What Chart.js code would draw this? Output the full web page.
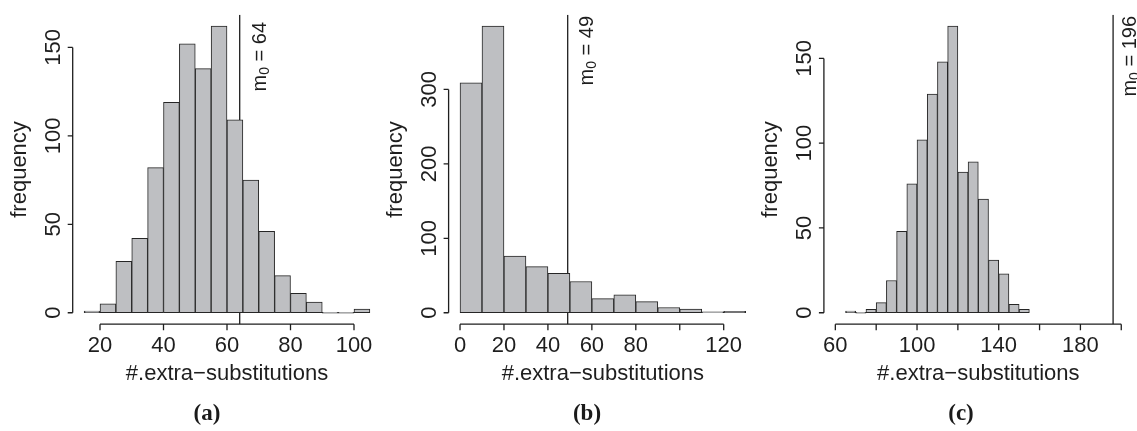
<!DOCTYPE html>
<html lang="en">
<head>
<meta charset="UTF-8">
<title>#.extra-substitutions</title>
<script src="https://cdn.jsdelivr.net/npm/chart.js"></script>
<style>
  body { margin: 0; background: #fff; }
  #wrap { position: relative; width: 1137px; height: 431px; }
  #wrap canvas { position: absolute; left: 0; top: 0; }
  .tag { position: absolute; top: 401px; width: 60px; margin-left: -30px; text-align: center;
         font: bold 23px "Liberation Serif", serif; line-height: 23px; color: #1a1a1a; }
</style>
</head>
<body>
<div id="wrap">
  <canvas id="ca" width="1137" height="431"></canvas>
  <canvas id="cb" width="1137" height="431"></canvas>
  <canvas id="cc" width="1137" height="431"></canvas>
  <div class="tag" style="left:207px">(a)</div>
  <div class="tag" style="left:587px">(b)</div>
  <div class="tag" style="left:961px">(c)</div>
</div>

<script>
  // panel (a)
  const binStartA = 15, binWidthA = 5;
  const countsA = [1, 5, 29, 42, 82, 119, 152, 138, 162, 109, 75, 46, 21, 11, 6, 0, 0, 2];
  const xLimA = [15, 105];
  const xTicksA = [20, 40, 60, 80, 100];
  const xLabelsA = ['20', '40', '60', '80', '100'];
  const yTicksA = [0, 50, 100, 150];
  const m0A = 64;

  // panel (b)
  const binStartB = 0, binWidthB = 10;
  const countsB = [309, 385, 76, 62, 53, 42, 19, 24, 15, 7, 5, 1, 2];
  const xLimB = [0, 130];
  const xTicksB = [0, 20, 40, 60, 80, 100, 120];
  const xLabelsB = ['0', '20', '40', '60', '80', '', '120'];
  const yTicksB = [0, 100, 200, 300];
  const m0B = 49;

  // panel (c)
  const binStartC = 65, binWidthC = 5;
  const countsC = [1, 0, 2, 6, 19, 48, 76, 102, 129, 148, 169, 83, 89, 67, 31, 23, 5, 2];
  const xLimC = [60, 200];
  const xTicksC = [60, 80, 100, 120, 140, 160, 180, 200];
  const xLabelsC = ['60', '', '100', '', '140', '', '180', ''];
  const yTicksC = [0, 50, 100, 150];
  const m0C = 196;

  const xTitle = '#.extra\u2212substitutions';
  const yTitle = 'frequency';

  const ink = '#1e1e1e';
  const font = '"Liberation Sans", Arial, sans-serif';

  // R pads the data range by 4% on each side
  const pad4 = (lo, hi) => [lo - 0.04 * (hi - lo), hi + 0.04 * (hi - lo)];

  function rAxes(p) {
    return {
      id: 'rAxes',
      afterDatasetsDraw(chart) {
        const { ctx, chartArea: a, scales: { x, y } } = chart;
        ctx.save();
        ctx.strokeStyle = ink;
        ctx.fillStyle = ink;
        ctx.lineWidth = 1.3;

        // x axis, only between first and last tick like base R
        const xs = p.xTicks.map(v => x.getPixelForValue(v));
        ctx.beginPath();
        ctx.moveTo(xs[0], a.bottom);
        ctx.lineTo(xs[xs.length - 1], a.bottom);
        xs.forEach(px => { ctx.moveTo(px, a.bottom); ctx.lineTo(px, a.bottom + 6); });
        ctx.stroke();
        ctx.font = '22px ' + font;
        ctx.textAlign = 'center';
        ctx.textBaseline = 'alphabetic';
        xs.forEach((px, i) => ctx.fillText(p.xLabels[i], px, a.bottom + 27.5));
        ctx.fillText(xTitle, (a.left + a.right) / 2, a.bottom + 56);

        // y axis
        const ys = p.yTicks.map(v => y.getPixelForValue(v));
        ctx.beginPath();
        ctx.moveTo(a.left, ys[0]);
        ctx.lineTo(a.left, ys[ys.length - 1]);
        ys.forEach(py => { ctx.moveTo(a.left, py); ctx.lineTo(a.left - 5, py); });
        ctx.stroke();
        ys.forEach((py, i) => {
          ctx.save();
          ctx.translate(a.left - 12.5, py);
          ctx.rotate(-Math.PI / 2);
          ctx.fillText(String(p.yTicks[i]), 0, 0);
          ctx.restore();
        });
        ctx.save();
        ctx.translate(a.left - 47, (a.top + a.bottom) / 2);
        ctx.rotate(-Math.PI / 2);
        ctx.fillText(yTitle, 0, 0);
        ctx.restore();

        // m0 label, rotated, ending near the top
        const big = '20px ' + font, small = '14px ' + font;
        const rest = ' = ' + p.m0;
        ctx.font = big;
        const wm = ctx.measureText('m').width, wr = ctx.measureText(rest).width;
        ctx.font = small;
        const w0 = ctx.measureText('0').width;
        ctx.save();
        ctx.translate(x.getPixelForValue(p.m0) + p.labelDx, p.labelTop);
        ctx.rotate(-Math.PI / 2);
        ctx.textAlign = 'left';
        let cx = -(wm + w0 + wr);
        ctx.font = big; ctx.fillText('m', cx, 0); cx += wm;
        ctx.font = small; ctx.fillText('0', cx, 3); cx += w0;
        ctx.font = big; ctx.fillText(rest, cx, 0);
        ctx.restore();

        ctx.restore();
      }
    };
  }

  function histogram(id, p) {
    const bars = p.counts.map((c, i) => ({ x: p.start + (i + 0.5) * p.width, y: c }));
    const xr = pad4(p.xLim[0], p.xLim[1]);
    const yr = pad4(0, Math.max(...p.counts));
    return new Chart(document.getElementById(id), {
      type: 'bar',
      data: {
        datasets: [
          {
            type: 'bar',
            data: bars,
            backgroundColor: '#bebfc2',
            borderColor: '#262626',
            borderWidth: 1,
            borderSkipped: false,
            minBarLength: 1,
            barPercentage: 1,
            categoryPercentage: 1
          },
          {
            type: 'line',
            data: [{ x: p.m0, y: yr[0] }, { x: p.m0, y: yr[1] }],
            borderColor: ink,
            borderWidth: 1.3,
            pointRadius: 0
          }
        ]
      },
      options: {
        responsive: false,
        animation: false,
        devicePixelRatio: 1,
        layout: { padding: { left: p.left, right: 1137 - p.right, top: 14.7, bottom: 431 - 324.2 } },
        scales: {
          x: {
            type: 'linear', min: xr[0], max: xr[1], offset: false, display: false,
            afterBuildTicks: s => { s.ticks = p.xTicks.map(v => ({ value: v })); }
          },
          y: { type: 'linear', min: yr[0], max: yr[1], display: false }
        },
        plugins: { legend: { display: false }, tooltip: { enabled: false } }
      },
      plugins: [rAxes(p)]
    });
  }

  histogram('ca', {
    start: binStartA, width: binWidthA, counts: countsA, xLim: xLimA,
    xTicks: xTicksA, xLabels: xLabelsA, yTicks: yTicksA, m0: m0A,
    left: 72.7, right: 381.3, labelDx: 26.5, labelTop: 22
  });
  histogram('cb', {
    start: binStartB, width: binWidthB, counts: countsB, xLim: xLimB,
    xTicks: xTicksB, xLabels: xLabelsB, yTicks: yTicksB, m0: m0B,
    left: 448.6, right: 757.1, labelDx: 25.5, labelTop: 16
  });
  histogram('cc', {
    start: binStartC, width: binWidthC, counts: countsC, xLim: xLimC,
    xTicks: xTicksC, xLabels: xLabelsC, yTicks: yTicksC, m0: m0C,
    left: 823.9, right: 1132.7, labelDx: 22.5, labelTop: 16
  });
</script>
</body>
</html>
